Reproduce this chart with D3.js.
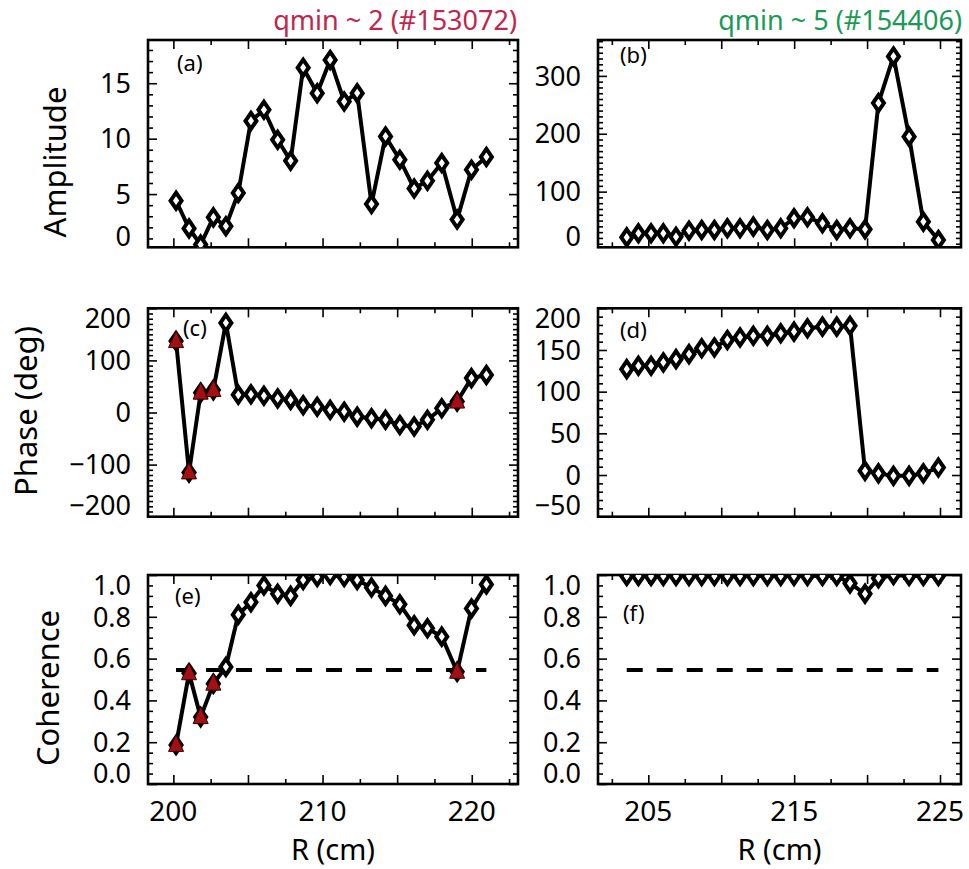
<!DOCTYPE html>
<html><head><meta charset="utf-8">
<script src="https://cdn.jsdelivr.net/npm/d3@7"></script>
<style>
body{margin:0;background:#fff}
svg{display:block}
text{font-family:"Noto Sans","Open Sans",sans-serif;fill:#000}
</style>
</head><body>
<svg id="chart" width="969" height="869"></svg>
<script>
// ---------------- data ----------------
const rLeft  = [200.18, 201.05, 201.83, 202.68, 203.52, 204.35, 205.20, 206.07, 206.99, 207.86, 208.70, 209.64,
                210.51, 211.45, 212.32, 213.28, 214.22, 215.18, 216.14, 217.03, 217.99, 219.02, 219.98, 220.98];
const rRight = [203.52, 204.32, 205.19, 206.03, 206.90, 207.79, 208.66, 209.53, 210.42, 211.29, 212.20, 213.16,
                214.08, 214.99, 215.91, 216.94, 217.92, 218.83, 219.86, 220.78, 221.81, 222.88, 223.86, 224.89];

const amplitudeQ2 = [4.4, 1.9, 0.45, 2.9, 2.1, 5.1, 11.6, 12.6, 9.9, 8.0, 16.4, 14.1,
                     17.1, 13.35, 14.1, 4.1, 10.2, 8.1, 5.5, 6.2, 7.8, 2.7, 7.2, 8.35];
const phaseQ2     = [137, -115, 38, 43, 172, 34, 35, 32, 27, 24, 14, 11,
                     5, 1.5, -8, -11, -14, -24, -27, -14, 8, 21, 66, 72];
const coherenceQ2 = [0.187, 0.53, 0.32, 0.48, 0.56, 0.81, 0.87, 0.95, 0.91, 0.90, 0.976, 0.99,
                     1.0, 0.99, 0.976, 0.94, 0.90, 0.86, 0.76, 0.745, 0.705, 0.537, 0.84, 0.955];
const lowCoherenceQ2 = [0, 1, 2, 3, 21];   // points flagged with red triangles

const amplitudeQ5 = [21, 28, 28, 28, 22, 32.5, 33.7, 33.7, 36.6, 36.6, 39.5, 33.7,
                     36.6, 54, 55.7, 45.3, 33.7, 36.6, 35, 253, 333.6, 195, 48, 16.4];
const phaseQ5     = [127, 131, 131, 135, 139, 145, 152, 153, 162, 165, 167, 167,
                     170, 172, 176, 178, 178, 179, 5, 2, -1, -1, 2, 9];
const coherenceQ5 = [0.995, 0.995, 0.995, 0.995, 0.995, 0.995, 0.995, 0.995, 0.995, 0.995, 0.995, 0.995,
                     0.995, 0.995, 0.995, 0.995, 0.995, 0.96, 0.91, 0.985, 1.0, 0.995, 0.995, 0.995];
const lowCoherenceQ5 = [];

const coherenceThreshold = 0.545;

const titleLeft  = "qmin ~ 2 (#153072)";
const titleRight = "qmin ~ 5 (#154406)";
const xTitle = "R (cm)";
const yTitles = ["Amplitude", "Phase (deg)", "Coherence"];
const panelLabels = ["(a)", "(b)", "(c)", "(d)", "(e)", "(f)"];

const xLabelsLeft  = [200, 210, 220];
const xLabelsRight = [205, 215, 225];
const xMajorStep = 5, xMinorStep = 2.5;

const yTicksA = [0, 5, 10, 15];
const yTicksB = [0, 100, 200, 300];
const yTicksC = [-200, -100, 0, 100, 200];
const yTicksD = [-50, 0, 50, 100, 150, 200];
const yTicksE = [0.0, 0.2, 0.4, 0.6, 0.8, 1.0];
const yTicksF = [0.0, 0.2, 0.4, 0.6, 0.8, 1.0];

// ---------------- layout ----------------
const svg = d3.select("#chart");
const cols = [
  {x0: 148, x1: 518, dom: [198.3, 223.1], R: rLeft,  labels: xLabelsLeft},
  {x0: 598, x1: 961, dom: [201.55, 226.44], R: rRight, labels: xLabelsRight}
];
const rows = [{y0: 40, y1: 247.3}, {y0: 308.3, y1: 516.7}, {y0: 575, y1: 784}];

const panels = [
  {row:0,col:0,vals:amplitudeQ2,ydom:[0.2,18.9],ticks:yTicksA,minor:1,fmt:d3.format("d"),flag:[],label:[177,71]},
  {row:0,col:1,vals:amplitudeQ5,ydom:[3.8,362],ticks:yTicksB,minor:10,fmt:d3.format("d"),flag:[],label:[620,63]},
  {row:1,col:0,vals:phaseQ2,ydom:[-200,200],ticks:yTicksC,minor:10,fmt:d3.format("d"),flag:lowCoherenceQ2,label:[183,336]},
  {row:1,col:1,vals:phaseQ5,ydom:[-50,200],ticks:yTicksD,minor:10,fmt:d3.format("d"),flag:lowCoherenceQ5,label:[620,338]},
  {row:2,col:0,vals:coherenceQ2,ydom:[0,1],ticks:yTicksE,minor:0.05,fmt:d3.format(".1f"),flag:lowCoherenceQ2,label:[175,604],thr:true},
  {row:2,col:1,vals:coherenceQ5,ydom:[0,1],ticks:yTicksF,minor:0.05,fmt:d3.format(".1f"),flag:lowCoherenceQ5,label:[623,621],thr:true}
];

function rangeIn(d0, d1, step) {
  const lo = Math.min(d0, d1), hi = Math.max(d0, d1);
  const out = [];
  for (let k = Math.ceil(lo / step - 1e-9); k * step <= hi + 1e-9; k++) out.push(+(k * step).toFixed(6));
  return out;
}

const diamond = "M0,-8L5.5,0L0,8L-5.5,0Z";
const triangle = "M0,-10L7.5,6.5L-7.5,6.5Z";

panels.forEach((p, i) => {
  const c = cols[p.col], r = rows[p.row];
  const x = d3.scaleLinear().domain(c.dom).range([c.x0, c.x1]);
  const y = d3.scaleLinear().domain(p.ydom).range([r.y1, r.y0]);
  const g = svg.append("g");
  const clipId = "clip" + i;
  svg.append("clipPath").attr("id", clipId).append("rect")
    .attr("x", c.x0).attr("y", r.y0).attr("width", c.x1 - c.x0).attr("height", r.y1 - r.y0);

  // ticks
  const xMaj = rangeIn(c.dom[0], c.dom[1], xMajorStep);
  const xMin = rangeIn(c.dom[0], c.dom[1], xMinorStep).filter(v => !xMaj.includes(v));
  const yMaj = p.ticks.filter(v => v >= Math.min(...p.ydom) - 1e-9 && v <= Math.max(...p.ydom) + 1e-9);
  const yMin = rangeIn(p.ydom[0], p.ydom[1], p.minor).filter(v => !yMaj.some(m => Math.abs(m - v) < 1e-6));
  const addAxis = (axis, tf) => g.append("g").attr("transform", tf).call(axis).call(s => {
    s.select(".domain").remove();
    s.selectAll("text").remove();
    s.selectAll("line").attr("stroke", "#000").attr("stroke-width", 1.6);
  });
  [[xMaj, 9], [xMin, 5]].forEach(([vals, len]) => {
    addAxis(d3.axisBottom(x).tickValues(vals).tickSize(-len), `translate(0,${r.y1})`);
    addAxis(d3.axisTop(x).tickValues(vals).tickSize(-len), `translate(0,${r.y0})`);
  });
  [[yMaj, 9], [yMin, 5]].forEach(([vals, len]) => {
    addAxis(d3.axisLeft(y).tickValues(vals).tickSize(-len), `translate(${c.x0},0)`);
    addAxis(d3.axisRight(y).tickValues(vals).tickSize(-len), `translate(${c.x1},0)`);
  });

  // frame
  g.append("rect").attr("x", c.x0).attr("y", r.y0).attr("width", c.x1 - c.x0).attr("height", r.y1 - r.y0)
    .attr("fill", "none").attr("stroke", "#000").attr("stroke-width", 2.6);

  // y tick labels (edge labels pulled inside the frame like the original)
  g.append("g").selectAll("text").data(p.ticks).join("text")
    .attr("x", c.x0 - 17)
    .attr("y", d => Math.max(r.y0 + 10, Math.min(r.y1 - 11, y(d))))
    .attr("dy", "0.36em")
    .attr("text-anchor", "end")
    .attr("font-size", 27)
    .text(d => p.fmt(d));

  // x tick labels on bottom row
  if (p.row === 2) {
    g.append("g").selectAll("text").data(c.labels).join("text")
      .attr("x", d => x(d)).attr("y", 821)
      .attr("text-anchor", "middle").attr("font-size", 28)
      .text(d => d);
    g.append("text").attr("x", (c.x0 + c.x1) / 2).attr("y", 860)
      .attr("text-anchor", "middle").attr("font-size", 29).text(xTitle);
  }

  const inner = g.append("g").attr("clip-path", `url(#${clipId})`);

  if (p.thr) {
    inner.append("line")
      .attr("x1", x(d3.min(c.R))).attr("x2", x(d3.max(c.R)))
      .attr("y1", y(coherenceThreshold)).attr("y2", y(coherenceThreshold))
      .attr("stroke", "#000").attr("stroke-width", 4).attr("stroke-dasharray", "16,14");
  }

  const pts = c.R.map((R, k) => ({R, v: p.vals[k], k}));
  inner.append("path").datum(pts)
    .attr("d", d3.line().x(d => x(d.R)).y(d => y(d.v)))
    .attr("fill", "none").attr("stroke", "#000").attr("stroke-width", 4).attr("stroke-linejoin", "round");

  inner.append("g").selectAll("path").data(pts).join("path")
    .attr("transform", d => `translate(${x(d.R)},${y(d.v)})`)
    .attr("d", diamond).attr("fill", "#fff").attr("stroke", "#000").attr("stroke-width", 4);

  inner.append("g").selectAll("path").data(pts.filter(d => p.flag.includes(d.k))).join("path")
    .attr("transform", d => `translate(${x(d.R)},${y(d.v)})`)
    .attr("d", triangle).attr("fill", "#a30f12").attr("stroke", "#3a0000").attr("stroke-width", 1);

  g.append("text").attr("x", p.label[0]).attr("y", p.label[1]).attr("font-size", 22).text(panelLabels[i]);
});

// column titles
svg.append("text").attr("x", 517).attr("y", 30).attr("text-anchor", "end")
  .attr("font-size", 27).style("fill", "#c0264e").text(titleLeft);
svg.append("text").attr("x", 962).attr("y", 30).attr("text-anchor", "end")
  .attr("font-size", 27).style("fill", "#1a9a55").text(titleRight);

// y-axis titles
[[66, 162], [37, 411], [59, 688]].forEach(([tx, ty], k) => {
  svg.append("text").attr("transform", `translate(${tx},${ty}) rotate(-90)`)
    .attr("text-anchor", "middle").attr("font-size", 31).text(yTitles[k]);
});
</script>
</body></html>
